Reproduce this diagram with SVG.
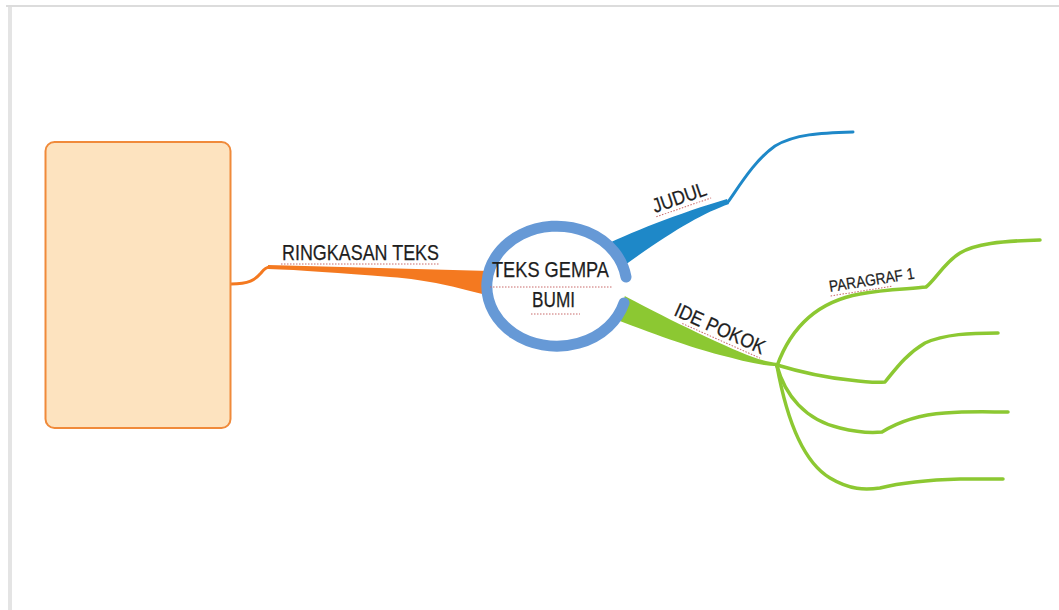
<svg xmlns="http://www.w3.org/2000/svg" width="1059" height="610" viewBox="0 0 1059 610">
<style>
.lbl{font-family:"Liberation Sans",Arial,sans-serif;fill:#1e1e1e;stroke:#1e1e1e;stroke-width:0.25}
.ul{stroke:#c86a6a;stroke-width:1;stroke-dasharray:1.5 1.5;fill:none}
.g{stroke:#8cc832;fill:none;stroke-linecap:round;stroke-linejoin:round}
</style>
<rect width="1059" height="610" fill="#ffffff"/>
<g id="frame">
<line x1="10" y1="6" x2="10" y2="610" stroke="#e4e4e4" stroke-width="4"/>
<line x1="6" y1="6" x2="1059" y2="6" stroke="#dcdcdc" stroke-width="2"/>
</g>
<g id="connectors">
<path d="M231,284 C249,284 255,280 261,273 C264,269 266,267 270,267" fill="none" stroke="#f47920" stroke-width="3"/>
<path d="M268,265 L490,271 L490,296 C455,287 430,280 390,277 C340,273 300,270 268,269 Z" fill="#f47920"/>
<path d="M595,250 C630,232 680,213 727,199 L729,204 C700,214 660,238 605,280 Z" fill="#1e88c8"/>
<path d="M728,202 C740,185 755,160 775,146 C795,134 820,133 853,132" fill="none" stroke="#1e88c8" stroke-width="3" stroke-linecap="round"/>
<path d="M605,285 C640,305 700,335 740,352 C755,358 765,362 778,363 L778,366 C760,366 740,360 720,355 C690,347 655,335 605,315 Z" fill="#8cc832"/>
<path class="g" stroke-width="3.5" d="M777,366 C790,330 815,302 860,294 C885,289 910,289 926,287 C935,280 945,262 960,253 C975,244 1000,241 1040,240"/>
<path class="g" stroke-width="3.5" d="M777,365 C800,372 830,378 850,380 C865,382 875,383 885,382 C895,370 905,355 925,343 C945,334 970,333 998,333"/>
<path class="g" stroke-width="3.5" d="M777,366 C785,395 805,420 840,428 C860,433 872,433 882,432 C895,424 915,415 945,413 C970,411 990,412 1008,412"/>
<path class="g" stroke-width="3.5" d="M777,366 C785,410 800,460 830,478 C850,490 865,490 880,488 C900,483 925,480 960,479 C980,479 995,479 1003,479"/>
</g>
<g id="summary-box">
<rect x="45.5" y="142" width="185" height="286" rx="9" fill="#fde3bf" stroke="#f08a3a" stroke-width="2"/>
</g>
<g id="center">
<ellipse cx="556" cy="285" rx="70" ry="60" fill="#ffffff"/>
<path d="M624,303 A70 60 0 1 1 626,277" fill="none" stroke="#6699d6" stroke-width="11" stroke-linecap="round"/>
<text class="lbl" x="492" y="277" font-size="22" textLength="117" lengthAdjust="spacingAndGlyphs">TEKS GEMPA</text>
<text class="lbl" x="532" y="307" font-size="22" textLength="43" lengthAdjust="spacingAndGlyphs">BUMI</text>
<line class="ul" x1="490" y1="287" x2="612" y2="287"/>
<line class="ul" x1="531" y1="314" x2="580" y2="314"/>
</g>
<g id="label-ringkasan">
<text class="lbl" x="282" y="260" font-size="22" textLength="157" lengthAdjust="spacingAndGlyphs">RINGKASAN TEKS</text>
<line class="ul" x1="281" y1="264" x2="440" y2="264"/>
</g>
<g id="label-judul" transform="translate(655,213) rotate(-19)">
<text class="lbl" x="0" y="0" font-size="20" textLength="56" lengthAdjust="spacingAndGlyphs">JUDUL</text>
<line class="ul" x1="0" y1="4" x2="58" y2="4"/>
</g>
<g id="label-ide-pokok" transform="translate(673,315) rotate(24)">
<text class="lbl" x="0" y="0" font-size="20" textLength="97" lengthAdjust="spacingAndGlyphs">IDE POKOK</text>
<line class="ul" x1="12" y1="4" x2="97" y2="4"/>
</g>
<g id="label-paragraf1" transform="translate(830,292) rotate(-9)">
<text class="lbl" x="0" y="0" font-size="16" textLength="86" lengthAdjust="spacingAndGlyphs">PARAGRAF 1</text>
<line class="ul" x1="0" y1="4" x2="62" y2="4"/>
</g>
</svg>
